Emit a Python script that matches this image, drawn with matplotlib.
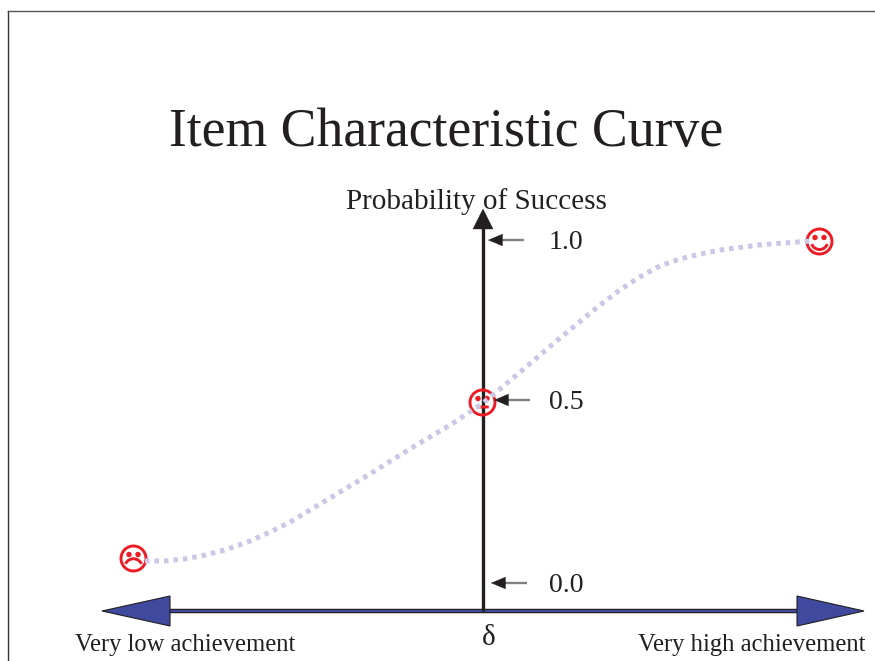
import matplotlib
matplotlib.use('Agg')
import matplotlib.pyplot as plt
from matplotlib.path import Path
from matplotlib.patches import FancyArrowPatch, Polygon
from matplotlib.transforms import Affine2D

plt.rcParams['font.family'] = ['Liberation Serif', 'DejaVu Serif']

# curve values, x = ability relative to delta, y = probability of success
ability = [-3.38, -3.18, -2.98, -2.78, -2.58, -2.33, -2.13, -1.93, -1.73, -1.53, -1.13, -0.73,
           -0.33, 0.0, 0.17, 0.37, 0.77, 1.17, 1.37, 1.57, 1.77, 1.97, 2.17, 2.37, 2.77, 3.27]
probability = [0.064, 0.064, 0.070, 0.081, 0.096, 0.122, 0.148, 0.177, 0.212, 0.247, 0.317, 0.390,
               0.459, 0.523, 0.564, 0.613, 0.712, 0.808, 0.852, 0.890, 0.922, 0.942, 0.956, 0.968,
               0.983, 0.994]

face_ability = [-3.50, -0.01, 3.36]
face_probability = [0.073, 0.526, 0.994]

tick_labels = ['1.0', '0.5', '0.0']
tick_probability = [0.997, 0.532, 0.0]
tick_tip_px = [488, 494, 491]

TEXT = '#231f20'
BLUE = '#3f4a9e'
CURVE = '#c9c9e6'
RED = '#ed1c24'

fig = plt.figure(figsize=(8.75, 6.61), dpi=100)
ax = fig.add_axes([0, 0, 1, 1])
ax.set_xlim(-4.83, 3.92)
ax.set_ylim(-78 / 344, 583 / 344)
ax.axis('off')

# layout is measured in pixels of the picture, these turn it into axis units
def X(px):
    return (px - 483) / 100

def Y(py):
    return (583 - py) / 344

def tri(points, fc, ec, lw=0.8, z=3):
    ax.add_patch(Polygon([(X(a), Y(b)) for a, b in points], closed=True,
                         fc=fc, ec=ec, lw=lw, zorder=z))

def smiley(mouth):
    eyes = [Path.circle((-0.36, 0.32), 0.1), Path.circle((0.36, 0.32), 0.1)]
    ring = Path.unit_circle()
    return Path.make_compound_path(ring, *eyes, mouth)

happy = Path.arc(200, 340).transformed(Affine2D().scale(0.66).translate(0, 0.02))
sad = Path.arc(25, 155).transformed(Affine2D().scale(0.7).translate(0, -0.72))
flat = Path([(-0.5, -0.36), (0.5, -0.36)])

# page border
ax.plot([X(7.5), X(7.5)], [Y(661), Y(11.5)], color='#333333', lw=1.0, zorder=1)
ax.plot([X(7.5), X(875)], [Y(11.5), Y(11.5)], color='#555555', lw=1.0, zorder=1)

# horizontal achievement axis
ax.plot([X(170), X(797)], [Y(611), Y(611)], color=TEXT, lw=3.2, zorder=2, solid_capstyle='butt')
ax.plot([X(170), X(797)], [Y(610.6), Y(610.6)], color=BLUE, lw=1.5, zorder=2, solid_capstyle='butt')
tri([(102, 611), (170, 596), (170, 626)], BLUE, TEXT)
tri([(864, 611), (797, 596), (797, 626)], BLUE, TEXT)

# vertical probability axis
ax.plot([X(483), X(483)], [Y(611), Y(228)], color=TEXT, lw=2.4, zorder=3, solid_capstyle='butt')
tri([(483, 209), (473, 229), (493, 229)], TEXT, TEXT, lw=0.3, z=3)

# faces then the dotted curve on top of them
for fx, fy, mouth in zip(face_ability, face_probability, [sad, flat, happy]):
    ax.plot([fx], [fy], marker=smiley(mouth), ms=18, mfc='none', mec=RED, mew=2.1,
            ls='none', zorder=4)
ax.plot(ability, probability, color=CURVE, lw=3.6, ls=(0, (0.9, 1.0)), zorder=5)

# pointers to the probability values
for lab, p, tip in zip(tick_labels, tick_probability, tick_tip_px):
    ax.plot([X(tip + 14), X(tip + 36)], [p, p], color='#808080', lw=1.7, zorder=6,
            solid_capstyle='butt')
    ax.add_patch(FancyArrowPatch((X(tip + 15), p), (X(tip), p),
                                 arrowstyle='-|>,head_length=10,head_width=4.2',
                                 mutation_scale=1, shrinkA=0, shrinkB=0, fc=TEXT, ec=TEXT,
                                 lw=0.3, zorder=7))
    ax.text(X(548.5), p - 0.008, lab, fontsize=20, color=TEXT, va='center', ha='left')

# text
ax.text(X(446.5), Y(146), 'Item Characteristic Curve', fontsize=38.6, color=TEXT,
        ha='center', va='baseline')
ax.text(X(476.5), Y(209.5), 'Probability of Success', fontsize=21, color=TEXT,
        ha='center', va='baseline')
ax.text(X(185.5), Y(651), 'Very low achievement', fontsize=17.7, color=TEXT, ha='center', va='baseline')
ax.text(X(752), Y(651), 'Very high achievement', fontsize=17.7, color=TEXT, ha='center', va='baseline')
ax.text(X(488.5), Y(645), 'δ', fontsize=21, color=TEXT, ha='center', va='baseline')

fig.savefig('out.png', dpi=100)
